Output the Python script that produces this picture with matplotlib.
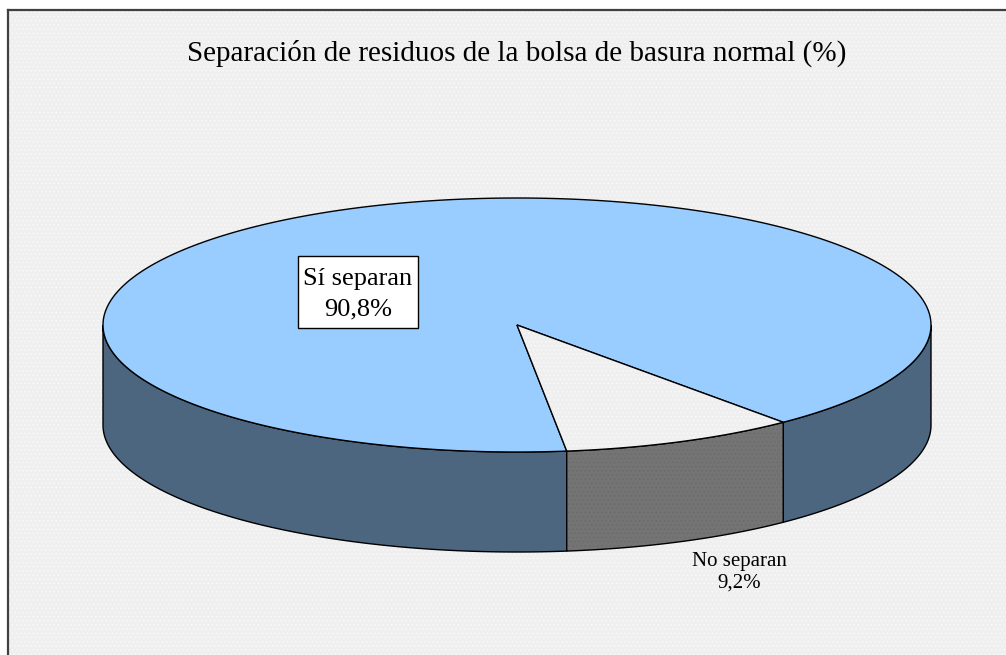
import numpy as np
from matplotlib import pyplot as plt
from matplotlib.patches import Polygon, Rectangle

plt.rcParams['font.family'] = ['Liberation Serif', 'DejaVu Serif']
plt.rcParams['hatch.linewidth'] = 0.5

# data
title = "Separación de residuos de la bolsa de basura normal (%)"
labels = ["Sí separan", "No separan"]
values = [90.8, 9.2]
value_labels = ["90,8%", "9,2%"]

# pie geometry in pixels
cx, cy = 517, 325
rx, ry = 414, 127
depth = 100
start = 6.9   # degrees from the bottom of the ellipse, going to the right


def rim(t0, t1, shift=0):
    # points on the ellipse between two angles
    t = np.radians(np.linspace(t0, t1, 300))
    return np.column_stack([cx + rx * np.sin(t), cy + ry * np.cos(t) + shift])


def dotted(pts, color, dots):
    # hatch takes the edge colour, so the outline goes on top as its own patch
    ax.add_patch(Polygon(pts, closed=True, fc=color, ec=dots, hatch='....', lw=0))
    ax.add_patch(Polygon(pts, closed=True, fc='none', ec='black', lw=1.0))


def side_pts(t0, t1):
    return np.vstack([rim(t0, t1), rim(t0, t1, depth)[::-1]])


fig = plt.figure(figsize=(10.06, 6.55), dpi=100)
ax = fig.add_axes([0, 0, 1, 1])
ax.set_xlim(0, 1006)
ax.set_ylim(655, 0)
ax.axis('off')

# dotted chart area, only left and top edges fall inside the picture
ax.add_patch(Rectangle((8, 10), 1010, 660, fc='#efefef', ec='#fafafa',
                       hatch='....', lw=0))
ax.plot([8, 8], [10, 655], color='#404040', lw=1.6)
ax.plot([8, 1006], [10, 10], color='#404040', lw=1.6)

sweep = 360 * values[1] / sum(values)
end = start + sweep

# side walls
ax.add_patch(Polygon(side_pts(-90, start), closed=True, fc='#4d6680', ec='black', lw=1.0))
ax.add_patch(Polygon(side_pts(end, 90), closed=True, fc='#4d6680', ec='black', lw=1.0))
dotted(side_pts(start, end), '#747474', '#6a6a6a')

# top faces
top_big = np.vstack([[cx, cy], rim(end, start + 360)])
ax.add_patch(Polygon(top_big, closed=True, fc='#99ccff', ec='black', lw=1.0))
dotted(np.vstack([[cx, cy], rim(start, end)]), '#efefef', '#fafafa')

# texts
ax.text(517, 53, title, fontsize=21, ha='center', va='center', color='black')
ax.add_patch(Rectangle((298, 256), 120, 72, fc='white', ec='black', lw=1.0))
ax.text(358, 294, f"{labels[0]}\n{value_labels[0]}", fontsize=19, ha='center',
        va='center', linespacing=1.5)
ax.text(739, 572, f"{labels[1]}\n{value_labels[1]}", fontsize=15, ha='center',
        va='center', linespacing=1.15)

fig.savefig('out.png', dpi=100)
